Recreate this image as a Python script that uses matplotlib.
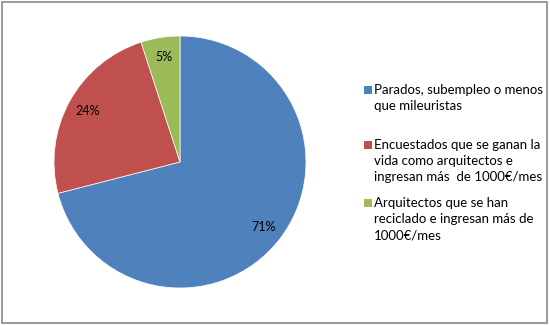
import matplotlib.pyplot as plt
from matplotlib.patches import Rectangle

labels = [
    "Parados, subempleo o menos\nque mileuristas",
    "Encuestados que se ganan la\nvida como arquitectos e\ningresan más  de 1000€/mes",
    "Arquitectos que se han\nreciclado e ingresan más de\n1000€/mes",
]
values = [71, 24, 5]
colors = ["#4F81BD", "#C0504D", "#9BBB59"]

plt.rcParams["font.family"] = ["Lato", "DejaVu Sans"]

fig = plt.figure(figsize=(5.5, 3.25), dpi=100)
ax = fig.add_axes([54 / 550, 37 / 325, 252 / 550, 252 / 325])

ax.pie(
    values,
    colors=colors,
    startangle=90,
    counterclock=False,
    autopct="%d%%",
    pctdistance=0.84,
    wedgeprops=dict(edgecolor="white", linewidth=0.5),
    textprops=dict(fontsize=9, color="black"),
)
ax.set_xlim(-1, 1)
ax.set_ylim(-1, 1)
ax.set_aspect("equal")

# legend, placed by hand (Excel leaves uneven gaps)
tops = [90, 145, 203]
for lab, col, y in zip(labels, colors, tops):
    fig.patches.append(Rectangle((364 / 550, 1 - (y + 4) / 325), 8 / 550, 8 / 325,
                                 transform=fig.transFigure, facecolor=col,
                                 edgecolor="none"))
    fig.text(374 / 550, 1 - (y - 6) / 325, lab, fontsize=9.5, va="top",
             ha="left", linespacing=1.42)

# chart border
fig.patches.append(Rectangle((2 / 550, 2 / 325), 545 / 550, 321 / 325,
                             transform=fig.transFigure, fill=False,
                             edgecolor="#878787", linewidth=1.2))

fig.savefig("out.png", dpi=100)
